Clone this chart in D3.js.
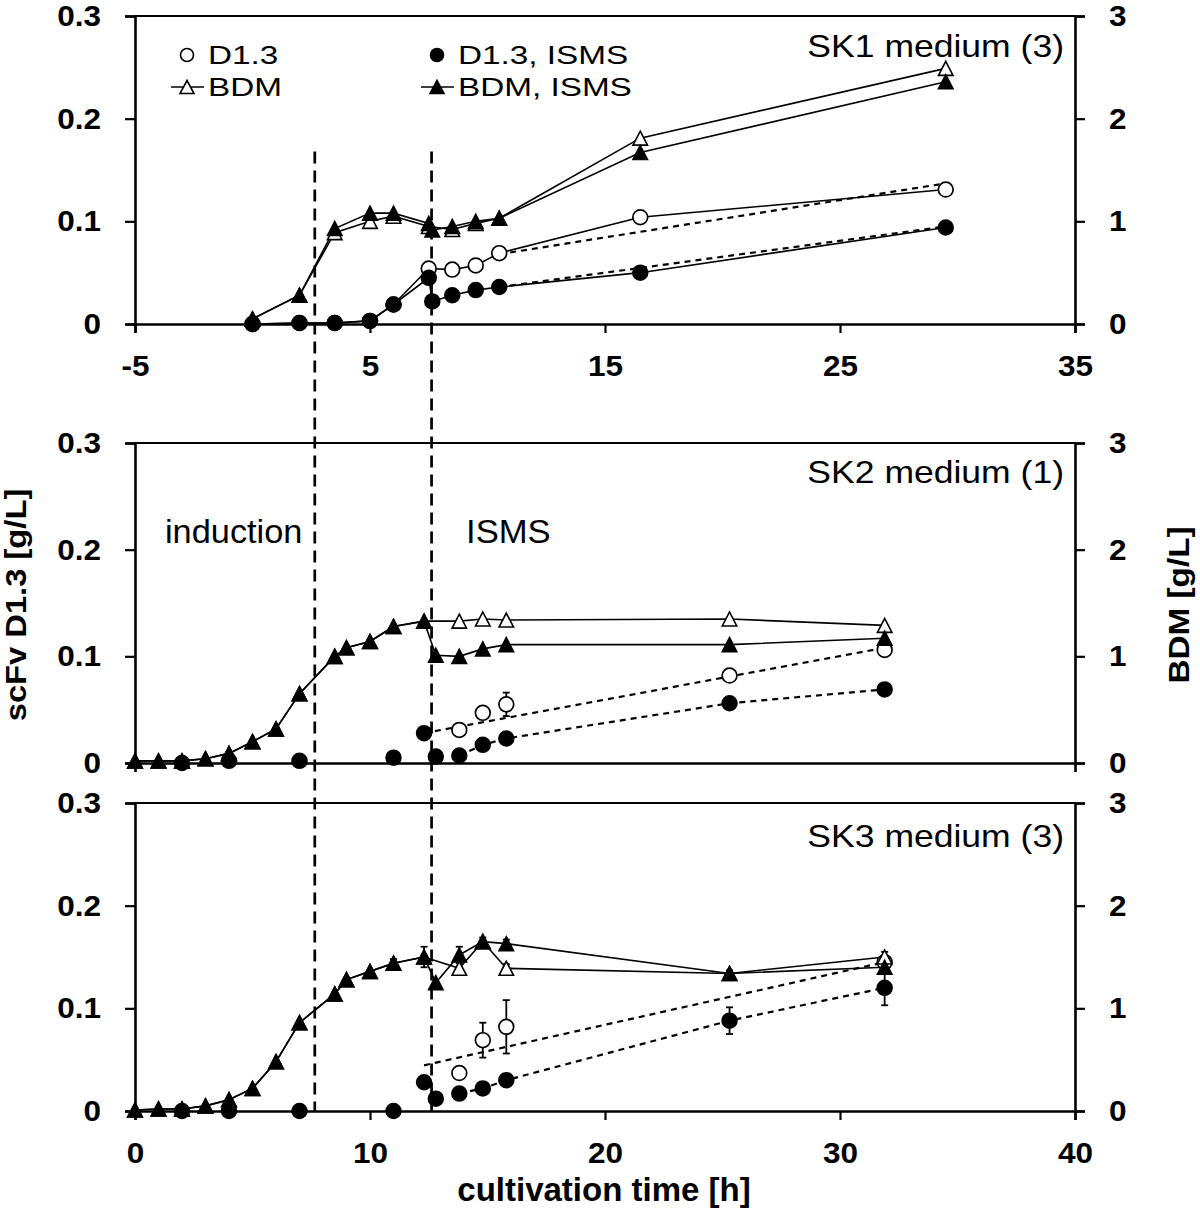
<!DOCTYPE html>
<html>
<head>
<meta charset="utf-8">
<script src="https://cdn.jsdelivr.net/npm/d3@7"></script>
<style>
  html, body { margin: 0; padding: 0; background: #fff; }
  svg { display: block; }
  .tick text { font-family: 'Liberation Sans', Arial, sans-serif; font-weight: bold; }
</style>
</head>
<body>
<svg id="chart" width="1200" height="1216"></svg>
<script>
// ---------------- DATA ----------------
// Panel 1: SK1 medium (3)  (time axis -5..35 h)
const sk1_t_D13      = [0, 2, 3.5, 5, 6, 7.5, 8.5, 9.5, 10.5, 16.5, 29.5];
const sk1_D13        = [0, 0.001, 0.001, 0.003, 0.019, 0.054, 0.053, 0.057, 0.069, 0.104, 0.131];
const sk1_t_D13I     = [0, 2, 3.5, 5, 6, 7.5, 7.65, 8.5, 9.5, 10.5, 16.5, 29.5];
const sk1_D13I       = [0, 0.001, 0.001, 0.003, 0.019, 0.045, 0.022, 0.028, 0.033, 0.036, 0.050, 0.094];
const sk1_t_BDM      = [0, 2, 3.5, 5, 6, 7.5, 8.5, 9.5, 10.5, 16.5, 29.5];
const sk1_BDM        = [0.05, 0.28, 0.89, 1.0, 1.05, 0.95, 0.92, 0.98, 1.03, 1.81, 2.49];
const sk1_t_BDMI     = [0, 2, 3.5, 5, 6, 7.5, 7.65, 8.5, 9.5, 10.5, 16.5, 29.5];
const sk1_BDMI       = [0.05, 0.28, 0.93, 1.08, 1.08, 0.98, 0.915, 0.95, 1.0, 1.03, 1.67, 2.36];
const sk1_fitD13     = [[10.5, 0.068], [29.5, 0.137]];
const sk1_fitD13I    = [[10.5, 0.036], [29.5, 0.095]];

// Panel 2: SK2 medium (1)  (time axis 0..40 h)
const sk2_t_BDMI     = [0, 1, 2, 3, 4, 5, 6, 7, 8.5, 9, 10, 11, 12.3, 12.8, 13.8, 14.8, 15.8, 25.3, 31.9];
const sk2_BDMI       = [0.02, 0.02, 0.02, 0.04, 0.09, 0.2, 0.32, 0.65, 1.0, 1.08, 1.14, 1.28, 1.33, 1.01, 1.0, 1.07, 1.11, 1.11, 1.17];
const sk2_t_BDM      = [0, 1, 2, 3, 4, 5, 6, 7, 8.5, 9, 10, 11, 12.3, 13.8, 14.8, 15.8, 25.3, 31.9];
const sk2_BDM        = [0.02, 0.02, 0.02, 0.04, 0.09, 0.2, 0.32, 0.65, 1.0, 1.08, 1.14, 1.28, 1.33, 1.33, 1.35, 1.34, 1.35, 1.29];
const sk2_t_D13I     = [2, 4, 7, 11, 12.3, 12.8, 13.8, 14.8, 15.8, 25.3, 31.9];
const sk2_D13I       = [0, 0.002, 0.002, 0.005, 0.028, 0.006, 0.007, 0.017, 0.023, 0.056, 0.069];
const sk2_t_D13      = [13.8, 14.8, 15.8, 25.3, 31.9];
const sk2_D13        = [0.031, 0.047, 0.055, 0.082, 0.106];
const sk2_errD13     = [0, 0, 0.011, 0, 0];
const sk2_fitD13     = [[12.3, 0.028], [31.9, 0.108]];
const sk2_fitD13I    = [[13.8, 0.007], [14.8, 0.017], [15.8, 0.023], [25.3, 0.056], [31.9, 0.069]];

// Panel 3: SK3 medium (3)  (time axis 0..40 h)
const sk3_t_BDMI     = [0, 1, 2, 3, 4, 5, 6, 7, 8.5, 9, 10, 11, 12.3, 12.8, 13.8, 14.8, 15.8, 25.3, 31.9];
const sk3_BDMI       = [0.01, 0.02, 0.02, 0.05, 0.11, 0.22, 0.48, 0.86, 1.14, 1.28, 1.36, 1.44, 1.5, 1.25, 1.52, 1.65, 1.63, 1.34, 1.40];
const sk3_errBDMI    = [0, 0, 0, 0, 0, 0, 0, 0, 0, 0, 0, 0.04, 0.1, 0, 0.08, 0.04, 0.04, 0.03, 0.03];
const sk3_t_BDM      = [0, 1, 2, 3, 4, 5, 6, 7, 8.5, 9, 10, 11, 12.3, 13.8, 14.8, 15.8, 25.3, 31.9];
const sk3_BDM        = [0.01, 0.02, 0.02, 0.05, 0.11, 0.22, 0.48, 0.86, 1.14, 1.28, 1.36, 1.44, 1.5, 1.39, 1.65, 1.39, 1.34, 1.50];
const sk3_errBDM     = [0, 0, 0, 0, 0, 0, 0, 0, 0, 0, 0, 0, 0, 0, 0, 0.04, 0, 0.05];
const sk3_t_D13I     = [2, 4, 7, 11, 12.3, 12.8, 13.8, 14.8, 15.8, 25.3, 31.9];
const sk3_D13I       = [0, 0, 0, 0, 0.028, 0.012, 0.017, 0.022, 0.030, 0.088, 0.120];
const sk3_errD13I    = [0, 0, 0, 0, 0, 0, 0, 0, 0, 0.013, 0.017];
const sk3_t_D13      = [13.8, 14.8, 15.8, 31.9];
const sk3_D13        = [0.037, 0.069, 0.082, 0.145];
const sk3_errD13     = [0, 0.017, 0.026, 0];
const sk3_fitD13     = [[12.3, 0.0445], [31.9, 0.145]];
const sk3_fitD13I    = [[13.8, 0.017], [14.8, 0.022], [15.8, 0.030], [25.3, 0.088], [31.9, 0.120]];

// Axis ticks and labels
const leftTicks   = [0, 0.1, 0.2, 0.3];
const rightTicks  = [0, 1, 2, 3];
const topXTicks   = [-5, 5, 15, 25, 35];
const botXTicks   = [0, 10, 20, 30, 40];
const panelLabels = ["SK1 medium (3)", "SK2 medium (1)", "SK3 medium (3)"];
const legendItems = ["D1.3", "BDM", "D1.3, ISMS", "BDM, ISMS"];
const phaseLines  = [7.65, 12.62];   // induction, ISMS start (on lower time axis)
const phaseLabels = ["induction", "ISMS"];

// ---------------- LAYOUT ----------------
const svg = d3.select("#chart");
const L = 135, R = 1075;
const panels = [
  { top: 16,  bottom: 324,  xDom: [-5, 35], ticks: topXTicks },
  { top: 443, bottom: 763,  xDom: [0, 40],  ticks: [] },
  { top: 803, bottom: 1111, xDom: [0, 40],  ticks: botXTicks }
];
panels.forEach(p => {
  p.x = d3.scaleLinear().domain(p.xDom).range([L, R]);
  p.yL = d3.scaleLinear().domain([0, 0.3]).range([p.bottom, p.top]);
  p.yR = d3.scaleLinear().domain([0, 3]).range([p.bottom, p.top]);
});

const lblFont = "'Liberation Sans', Arial, sans-serif";
function stretch(sel, f) {
  sel.each(function () {
    const w = this.getComputedTextLength();
    this.setAttribute("textLength", w * f);
    this.setAttribute("lengthAdjust", "spacingAndGlyphs");
  });
}

// ---------------- AXES ----------------
panels.forEach((p, i) => {
  const g = svg.append("g");
  const la = g.append("g").attr("transform", `translate(${L},0)`)
    .call(d3.axisLeft(p.yL).tickValues(leftTicks).tickSize(10).tickPadding(24)
      .tickFormat(d => d === 0 ? "0" : d3.format(".1f")(d)));
  const ra = g.append("g").attr("transform", `translate(${R},0)`)
    .call(d3.axisRight(p.yR).tickValues(rightTicks).tickSize(10).tickPadding(24)
      .tickFormat(d => String(d)));
  const ba = g.append("g").attr("transform", `translate(0,${p.bottom})`)
    .call(d3.axisBottom(p.x).tickValues(p.ticks).tickSizeOuter(0).tickSize(9).tickPadding(22)
      .tickFormat(d => String(d)));
  [la, ra, ba].forEach(a => {
    a.select(".domain").attr("stroke", "#000").attr("stroke-width", 2.6);
    a.selectAll(".tick line").attr("stroke", "#000").attr("stroke-width", 2.2);
    const tt = a.selectAll(".tick text").attr("fill", "#000").style("font-size", "30px");
    stretch(tt, 1.05);
  });
  g.append("line").attr("x1", L).attr("x2", R).attr("y1", p.top).attr("y2", p.top)
    .attr("stroke", "#000").attr("stroke-width", 2.2);
  const pl = g.append("text").attr("x", 1064).attr("y", [57, 483, 847][i])
    .attr("text-anchor", "end").style("font-family", lblFont).style("font-size", "32px")
    .text(panelLabels[i]);
  stretch(pl, 1.11);
});

// ---------------- PHASE LINES ----------------
const pb = panels[2], pt = panels[0];
phaseLines.forEach(t => {
  svg.append("line")
    .attr("x1", pb.x(t)).attr("x2", pb.x(t))
    .attr("y1", pt.yL(0.168)).attr("y2", pb.yL(0))
    .attr("stroke", "#000").attr("stroke-width", 2.7).attr("stroke-dasharray", "12,7");
});
const ph1 = svg.append("text").attr("x", 165).attr("y", 543).style("font-family", lblFont)
  .style("font-size", "33px").text(phaseLabels[0]);
const ph2 = svg.append("text").attr("x", 466).attr("y", 543).style("font-family", lblFont)
  .style("font-size", "33px").text(phaseLabels[1]);
stretch(ph1, 1.04); stretch(ph2, 1.05);

// ---------------- MARKS ----------------
const zip = (ts, vs, es) => ts.map((t, i) => ({ t, v: vs[i], e: es ? es[i] : 0 }));
const triD = (w, h) => `M0,${-h / 2}L${w / 2},${h / 2}L${-w / 2},${h / 2}Z`;
const triPath = triD(14.5, 14);

function drawLine(p, data, yScale, dashed) {
  svg.append("path").datum(data)
    .attr("d", d3.line().x(d => p.x(d.t)).y(d => yScale(d.v)))
    .attr("fill", "none").attr("stroke", "#000")
    .attr("stroke-width", dashed ? 2.2 : 1.6)
    .attr("stroke-dasharray", dashed ? "6,5" : null);
}
function drawErr(p, data, yScale) {
  data.filter(d => d.e > 0).forEach(d => {
    const x = p.x(d.t);
    const g = svg.append("g").attr("stroke", "#000").attr("stroke-width", 1.8);
    g.append("line").attr("x1", x).attr("x2", x).attr("y1", yScale(d.v - d.e)).attr("y2", yScale(d.v + d.e));
    [d.v - d.e, d.v + d.e].forEach(v => g.append("line").attr("x1", x - 3.5).attr("x2", x + 3.5)
      .attr("y1", yScale(v)).attr("y2", yScale(v)));
  });
}
function drawCircles(p, data, yScale, filled) {
  svg.append("g").selectAll("circle").data(data).join("circle")
    .attr("cx", d => p.x(d.t)).attr("cy", d => yScale(d.v)).attr("r", 7.4)
    .attr("fill", filled ? "#000" : "#fff").attr("stroke", "#000").attr("stroke-width", 1.7);
}
function drawTris(p, data, yScale, filled) {
  svg.append("g").selectAll("path").data(data).join("path")
    .attr("transform", d => `translate(${p.x(d.t)},${yScale(d.v)})`)
    .attr("d", triPath)
    .attr("fill", filled ? "#000" : "#fff").attr("stroke", "#000").attr("stroke-width", 1.6)
    .attr("stroke-linejoin", "miter");
}

// Panel 1
{
  const p = panels[0];
  const oc = zip(sk1_t_D13, sk1_D13), fc = zip(sk1_t_D13I, sk1_D13I);
  const ot = zip(sk1_t_BDM, sk1_BDM), ft = zip(sk1_t_BDMI, sk1_BDMI);
  drawLine(p, sk1_fitD13.map(([t, v]) => ({ t, v })), p.yL, true);
  drawLine(p, sk1_fitD13I.map(([t, v]) => ({ t, v })), p.yL, true);
  drawLine(p, oc, p.yL, false); drawLine(p, fc, p.yL, false);
  drawLine(p, ot, p.yR, false); drawLine(p, ft, p.yR, false);
  drawCircles(p, oc, p.yL, false); drawCircles(p, fc, p.yL, true);
  drawTris(p, ot, p.yR, false); drawTris(p, ft, p.yR, true);
}
// Panel 2
{
  const p = panels[1];
  const oc = zip(sk2_t_D13, sk2_D13, sk2_errD13), fc = zip(sk2_t_D13I, sk2_D13I);
  const ot = zip(sk2_t_BDM, sk2_BDM), ft = zip(sk2_t_BDMI, sk2_BDMI);
  drawLine(p, sk2_fitD13.map(([t, v]) => ({ t, v })), p.yL, true);
  drawLine(p, sk2_fitD13I.map(([t, v]) => ({ t, v })), p.yL, true);
  drawLine(p, ot, p.yR, false); drawLine(p, ft, p.yR, false);
  drawErr(p, oc, p.yL);
  drawCircles(p, oc, p.yL, false); drawCircles(p, fc, p.yL, true);
  drawTris(p, ot, p.yR, false); drawTris(p, ft, p.yR, true);
}
// Panel 3
{
  const p = panels[2];
  const oc = zip(sk3_t_D13, sk3_D13, sk3_errD13), fc = zip(sk3_t_D13I, sk3_D13I, sk3_errD13I);
  const ot = zip(sk3_t_BDM, sk3_BDM, sk3_errBDM), ft = zip(sk3_t_BDMI, sk3_BDMI, sk3_errBDMI);
  drawLine(p, sk3_fitD13.map(([t, v]) => ({ t, v })), p.yL, true);
  drawLine(p, sk3_fitD13I.map(([t, v]) => ({ t, v })), p.yL, true);
  drawLine(p, ot, p.yR, false); drawLine(p, ft, p.yR, false);
  drawErr(p, oc, p.yL); drawErr(p, fc, p.yL);
  drawErr(p, ot, p.yR); drawErr(p, ft, p.yR);
  drawCircles(p, oc, p.yL, false); drawCircles(p, fc, p.yL, true);
  drawTris(p, ot, p.yR, false); drawTris(p, ft, p.yR, true);
}

// ---------------- LEGEND ----------------
{
  const lg = svg.append("g").style("font-family", lblFont).style("font-size", "26px");
  const rows = [{ y: 64, sym: "c" }, { y: 96, sym: "t" }];
  const cols = [{ x: 187, tx: 208, fill: "#fff" }, { x: 437, tx: 458, fill: "#000" }];
  cols.forEach((c, ci) => rows.forEach((r, ri) => {
    const cy = r.y - 9;
    if (r.sym === "c") {
      lg.append("circle").attr("cx", c.x).attr("cy", cy).attr("r", 6.5)
        .attr("fill", c.fill).attr("stroke", "#000").attr("stroke-width", 1.6);
    } else {
      lg.append("line").attr("x1", c.x - 16).attr("x2", c.x + 17).attr("y1", cy).attr("y2", cy)
        .attr("stroke", "#000").attr("stroke-width", 1.6);
      lg.append("path").attr("transform", `translate(${c.x},${cy})`)
        .attr("d", triD(14, 13))
        .attr("fill", c.fill).attr("stroke", "#000").attr("stroke-width", 1.6);
    }
    const t = lg.append("text").attr("x", c.tx).attr("y", r.y).text(legendItems[ci * 2 + ri]);
    stretch(t, 1.28);
  }));
}

// ---------------- AXIS TITLES ----------------
const yt1 = svg.append("text")
  .attr("transform", `translate(26,605) rotate(-90)`)
  .attr("text-anchor", "middle").style("font-family", lblFont)
  .style("font-weight", "bold").style("font-size", "30px")
  .text("scFv D1.3 [g/L]");
const yt2 = svg.append("text")
  .attr("transform", `translate(1189,605) rotate(-90)`)
  .attr("text-anchor", "middle").style("font-family", lblFont)
  .style("font-weight", "bold").style("font-size", "30px")
  .text("BDM [g/L]");
stretch(yt1, 1.09); stretch(yt2, 1.11);
svg.append("text")
  .attr("x", 604).attr("y", 1201).attr("text-anchor", "middle")
  .style("font-family", lblFont)
  .style("font-weight", "bold").style("font-size", "33px")
  .text("cultivation time [h]");
</script>
</body>
</html>
